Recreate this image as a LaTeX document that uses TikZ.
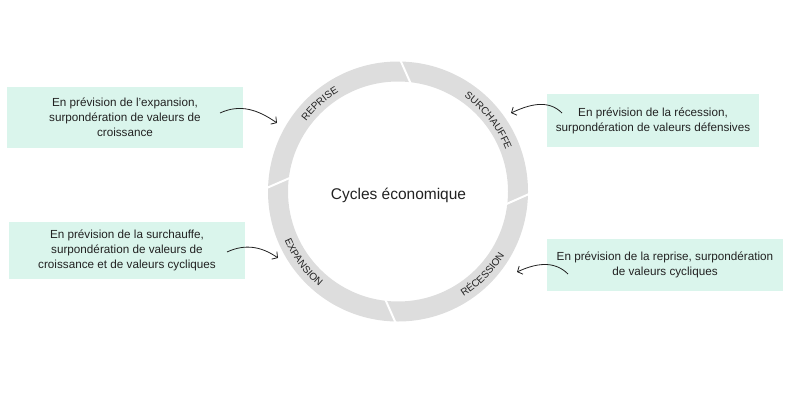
\documentclass[tikz,border=0pt]{standalone}
\usepackage{fontspec}
\setmainfont{Liberation Sans}
\usetikzlibrary{arrows.meta,decorations.text,calc}
\definecolor{ringgray}{RGB}{221,221,221}
\definecolor{mint}{RGB}{218,245,236}
\definecolor{ink}{RGB}{34,34,34}
\newcommand\ringfont{\fontsize{10}{10}\selectfont\color{ink}}
\begin{document}
\begin{tikzpicture}[x=1pt,y=1pt,
 infobox/.style={fill=mint, draw=none, align=center, font=\fontsize{11.7}{15}\selectfont, inner sep=0pt, text=ink},
 curvearrow/.style={draw=ink, line width=0.8pt, -{Straight Barb[length=4pt,width=9pt]}},
 gapline/.style={white, line width=2pt},
 ringlabel/.style={decorate, decoration={text along path, text align=center, text={#1}}}
]
\useasboundingbox (0,0) rectangle (800,400);
\coordinate (c) at (398,208.5);
% ring
\fill[ringgray, even odd rule] (c) circle[radius=130pt] (c) circle[radius=110pt];
\foreach \a in {89,-1,-91,178.5}
  \draw[gapline] ($(c)+(\a:131.5pt)$) -- ($(c)+({\a-5.8}:108.5pt)$);
% ring labels
\path[ringlabel={|\ringfont|REPRISE}] ($(c)+(171.8:115.5pt)$) arc[start angle=171.8, end angle=91.8, radius=115.5pt];
\path[ringlabel={|\ringfont|SURCHAUFFE}] ($(c)+(78.2:115.5pt)$) arc[start angle=78.2, end angle=-1.8, radius=115.5pt];
\path[ringlabel={|\ringfont|RÉCESSION}] ($(c)+(-84.5:124pt)$) arc[start angle=-84.5, end angle=-4.5, radius=124pt];
\path[ringlabel={|\ringfont|EXPANSION}] ($(c)+(-183.2:123.5pt)$) arc[start angle=-183.2, end angle=-103.2, radius=123.5pt];
% centre
\node[font=\fontsize{15.5}{18}\selectfont, text=ink] (title) at (398.5,205) {Cycles économique};
% boxes
\node[infobox, minimum width=236pt, minimum height=61pt] (b1) at (125,282.5) {En prévision de l’expansion,\\surpondération de valeurs de\\croissance};
\node[infobox, minimum width=236pt, minimum height=57pt] (b2) at (127,149.5) {En prévision de la surchauffe,\\surpondération de valeurs de\\croissance et de valeurs cycliques};
\node[infobox, minimum width=212pt, minimum height=53pt] (b3) at (653,279.5) {En prévision de la récession,\\surpondération de valeurs défensives};
\node[infobox, minimum width=236pt, minimum height=52pt] (b4) at (665,135) {En prévision de la reprise, surpondération\\de valeurs cycliques};
% arrows
\coordinate (a1s) at (220,287); \coordinate (a1e) at (277,277);
\coordinate (a2s) at (227,148); \coordinate (a2e) at (278,142);
\coordinate (a3s) at (562,287); \coordinate (a3e) at (511,287);
\coordinate (a4s) at (568,126); \coordinate (a4e) at (517,128);
\draw[curvearrow] (a1s) to[out=25,in=145] (a1e);
\draw[curvearrow] (a2s) to[out=25,in=145] (a2e);
\draw[curvearrow] (a3s) to[out=135,in=25] (a3e);
\draw[curvearrow] (a4s) to[out=135,in=25] (a4e);
\end{tikzpicture}
\end{document}
